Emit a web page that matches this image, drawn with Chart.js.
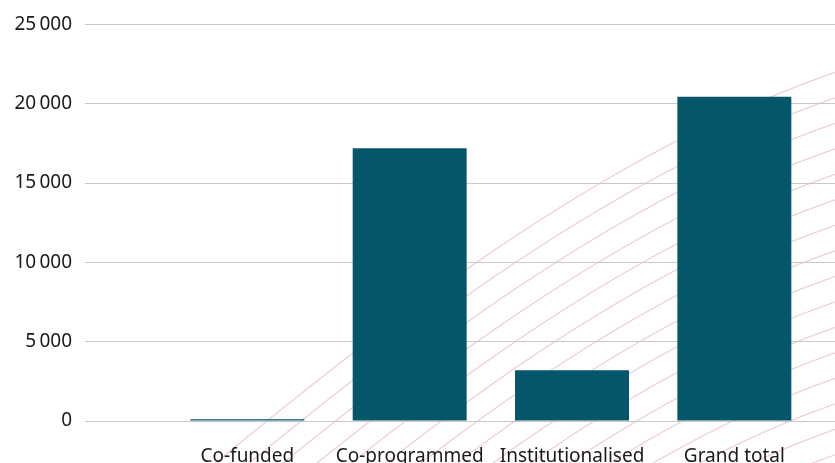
<!DOCTYPE html>
<html>
<head>
<meta charset="utf-8">
<script src="https://cdn.jsdelivr.net/npm/chart.js@4.4.1/dist/chart.umd.min.js"></script>
<style>
  html, body { margin: 0; padding: 0; background: #fff; overflow: hidden; }
  #wrap { width: 835px; height: 463px; position: relative; }
</style>
</head>
<body>
<div id="wrap"><canvas id="barChart"></canvas></div>
<script>
const categories = ['Co-funded', 'Co-programmed', 'Institutionalised', 'Grand total'];
const values = [110, 17190, 3195, 20440];
const yTicks = [0, 5000, 10000, 15000, 20000, 25000];

// faint pink swoosh lines behind the plot (decoration only)
const swoosh = {
  id: 'swoosh',
  beforeDraw(chart) {
    const ctx = chart.ctx;
    ctx.save();
    ctx.fillStyle = '#fff';
    ctx.fillRect(0, 0, chart.width, chart.height);
    ctx.strokeStyle = 'rgba(214, 140, 168, 0.45)';
    ctx.lineWidth = 1.2;
    for (let i = 0; i < 18; i++) {
      const d = i * 25.5;
      ctx.beginPath();
      ctx.moveTo(195 + d * 0.1, 480 + d);
      ctx.bezierCurveTo(400 + d * 0.1, 310 + d, 620, 140 + d, 860, 64 + d);
      ctx.stroke();
    }
    ctx.restore();
  }
};

function fmt(v) {
  return String(v).replace(/\B(?=(\d{3})+(?!\d))/g, '\u2009');
}

const ctxBar = document.getElementById('barChart').getContext('2d');
new Chart(ctxBar, {
  type: 'bar',
  data: {
    datasets: [{
      data: values.map((v, i) => ({ x: i, y: v })),
      backgroundColor: '#04566a',
      borderWidth: 0,
      barPercentage: 0.702,
      categoryPercentage: 1,
    }],
  },
  options: {
    responsive: true,
    maintainAspectRatio: false,
    animation: false,
    layout: { padding: { top: 22, right: 0, left: 0, bottom: 0 } },
    plugins: { legend: { display: false }, tooltip: { enabled: false } },
    scales: {
      x: {
        type: 'linear',
        offset: false,
        min: -1,
        max: 3.62,
        afterBuildTicks: (scale) => {
          scale.ticks = categories.map((c, i) => ({ value: i }));
        },
        afterFit: (scale) => { scale.height = 42; },
        grid: { display: false },
        border: { display: false },
        ticks: {
          autoSkip: false,
          maxRotation: 0,
          padding: 16,
          color: '#1a1a1a',
          font: { family: 'Noto Sans', size: 19 },
          callback: (v) => categories[v] || '',
        },
      },
      y: {
        min: 0,
        max: 25000,
        afterBuildTicks: (scale) => {
          scale.ticks = yTicks.map(v => ({ value: v }));
        },
        afterFit: (scale) => { scale.width = 85; },
        border: { display: false },
        grid: { color: '#c8c8c8', lineWidth: 1, drawTicks: false },
        ticks: {
          padding: 13,
          color: '#1a1a1a',
          font: { family: 'Noto Sans', size: 19 },
          callback: (v) => fmt(v),
        },
      },
    },
  },
  plugins: [swoosh],
});
</script>
</body>
</html>
